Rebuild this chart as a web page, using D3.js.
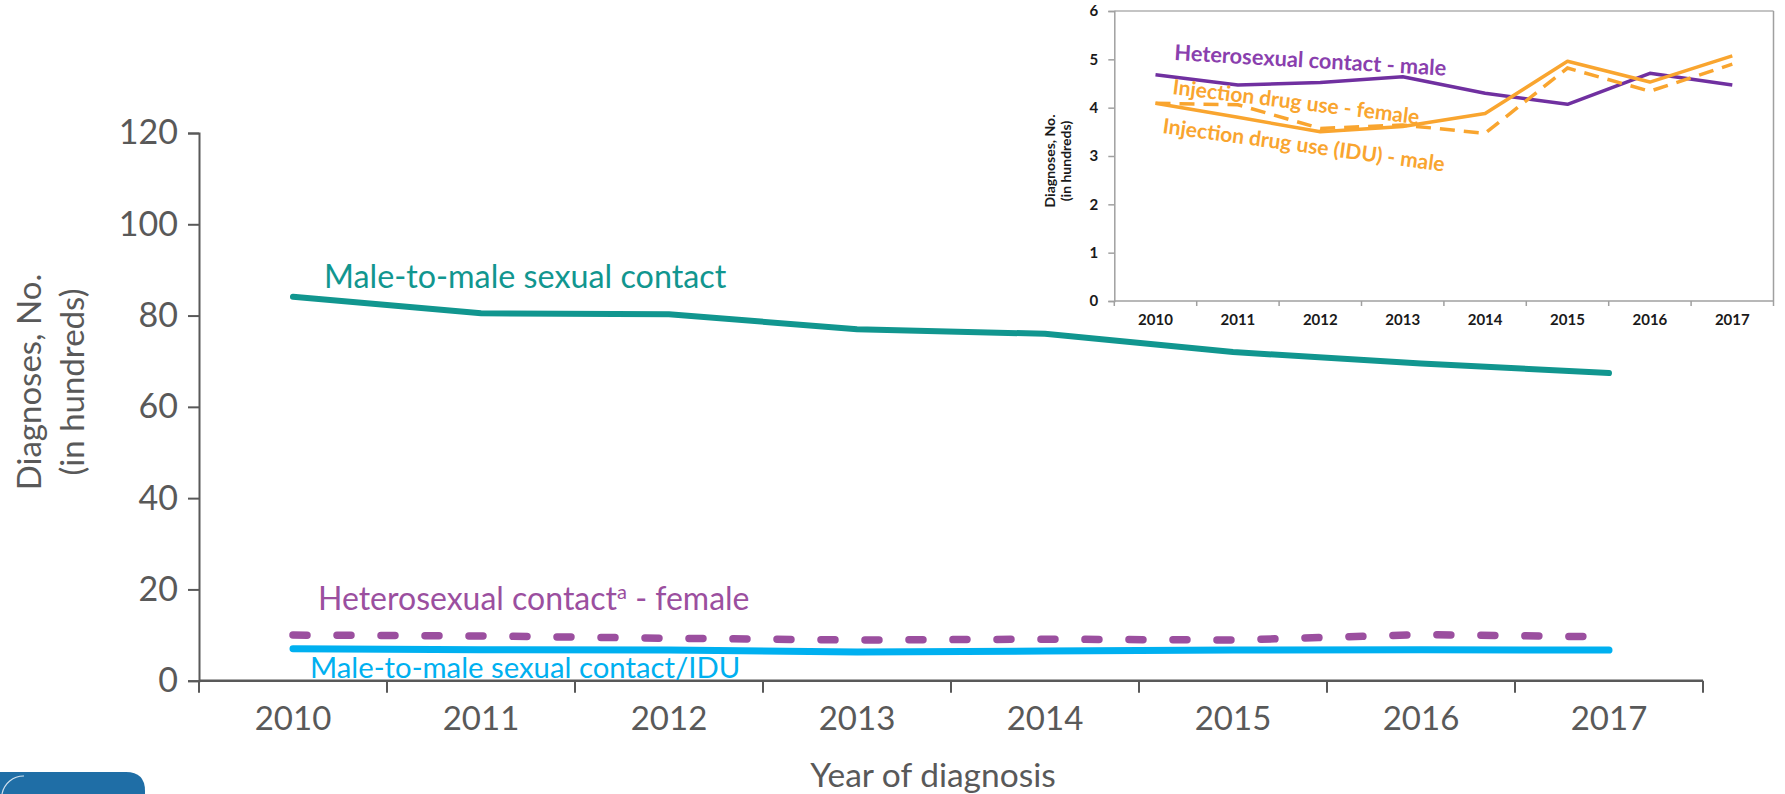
<!DOCTYPE html>
<html>
<head>
<meta charset="utf-8">
<script src="https://cdn.jsdelivr.net/npm/d3@7"></script>
<style>
  html, body { margin: 0; padding: 0; background: #fff; }
  svg { display: block; }
</style>
</head>
<body>
<svg id="chart" width="1785" height="794"></svg>
<script>
// ---------- data ----------
const years = ["2010", "2011", "2012", "2013", "2014", "2015", "2016", "2017"];
const mainYTicks = [0, 20, 40, 60, 80, 100, 120];
const insetYTicks = [0, 1, 2, 3, 4, 5, 6];

const maleToMale = [84.1, 80.5, 80.3, 77.0, 76.0, 72.0, 69.5, 67.4];
const heteroFemale = [10.0, 9.8, 9.3, 8.9, 9.1, 8.9, 10.1, 9.6];
const mmscIdu = [7.0, 6.8, 6.7, 6.3, 6.5, 6.7, 6.8, 6.7];

const heteroMale = [4.68, 4.47, 4.52, 4.64, 4.30, 4.07, 4.71, 4.47];
const iduMale = [4.09, 3.80, 3.50, 3.61, 3.88, 4.96, 4.53, 5.07];
const iduFemale = [4.09, 4.06, 3.57, 3.64, 3.47, 4.82, 4.34, 4.90];

const mainLabels = ["Male-to-male sexual contact", "Heterosexual contact", "Male-to-male sexual contact/IDU"];
const insetLabels = ["Heterosexual contact - male", "Injection drug use - female", "Injection drug use (IDU) - male"];

// ---------- setup ----------
const svg = d3.select("#chart");
const FONT = "Lato, 'Open Sans', sans-serif";
const AXIS = "#595959";

// ---------- main chart ----------
const mx = d3.scaleBand().domain(years).range([199, 1703]);
const my = d3.scaleLinear().domain([0, 120]).range([680.7, 133]);
const mcx = d => mx(d) + mx.bandwidth() / 2;

const mainG = svg.append("g");

// y axis
const yAx = mainG.append("g").attr("transform", "translate(199,0)")
  .call(d3.axisLeft(my).tickValues(mainYTicks).tickSize(11).tickPadding(10));
yAx.select(".domain").attr("stroke", AXIS).attr("stroke-width", 2);
yAx.selectAll(".tick line").attr("stroke", AXIS).attr("stroke-width", 2);
yAx.selectAll(".tick text").attr("fill", AXIS).style("font-family", FONT).style("font-size", "34px");

// x axis: ticks at band boundaries
const xAx = mainG.append("g").attr("transform", "translate(0,680.7)");
xAx.append("line").attr("x1", 199).attr("x2", 1703).attr("stroke", AXIS).attr("stroke-width", 2.5);
const bounds = years.map(y => mx(y)).concat([mx(years[years.length - 1]) + mx.bandwidth()]);
xAx.selectAll("line.tk").data(bounds).join("line").attr("class", "tk")
  .attr("x1", d => d).attr("x2", d => d).attr("y1", 0).attr("y2", 12)
  .attr("stroke", AXIS).attr("stroke-width", 2);
xAx.selectAll("text").data(years).join("text")
  .attr("x", d => mcx(d)).attr("y", 49)
  .attr("text-anchor", "middle").attr("fill", AXIS)
  .style("font-family", FONT).style("font-size", "33px").text(d => d);

// axis titles
mainG.append("text").attr("x", 933).attr("y", 787).attr("text-anchor", "middle")
  .attr("fill", AXIS).style("font-family", FONT).style("font-size", "33.5px").text("Year of diagnosis");
mainG.append("text").attr("transform", "translate(41,382) rotate(-90)").attr("text-anchor", "middle")
  .attr("fill", AXIS).style("font-family", FONT).style("font-size", "33px").text("Diagnoses, No.");
mainG.append("text").attr("transform", "translate(84,382) rotate(-90)").attr("text-anchor", "middle")
  .attr("fill", AXIS).style("font-family", FONT).style("font-size", "33px").text("(in hundreds)");

const mline = d3.line().x((d, i) => mcx(years[i])).y(d => my(d));

mainG.append("path").datum(maleToMale).attr("d", mline).attr("fill", "none")
  .attr("stroke", "#11968F").attr("stroke-width", 6).attr("stroke-linecap", "round");
mainG.append("path").datum(heteroFemale).attr("d", mline).attr("fill", "none")
  .attr("stroke", "#9B4F9F").attr("stroke-width", 7.5).attr("stroke-linecap", "round")
  .attr("stroke-dasharray", "14,30");
mainG.append("path").datum(mmscIdu).attr("d", mline).attr("fill", "none")
  .attr("stroke", "#00B0F0").attr("stroke-width", 7).attr("stroke-linecap", "round");

// labels
mainG.append("text").attr("x", 324).attr("y", 288).attr("fill", "#11968F")
  .style("font-family", FONT).style("font-size", "32.3px").text(mainLabels[0]);
const hl = mainG.append("text").attr("x", 318).attr("y", 610).attr("fill", "#9B4F9F")
  .style("font-family", FONT).style("font-size", "32px");
hl.append("tspan").text(mainLabels[1]);
hl.append("tspan").attr("dy", -11).style("font-size", "20px").text("a");
hl.append("tspan").attr("dy", 11).text(" - female");
mainG.append("text").attr("x", 310).attr("y", 678).attr("fill", "#00B0F0")
  .style("font-family", FONT).style("font-size", "29.3px").text(mainLabels[2]);

// ---------- inset ----------
const ix = d3.scaleBand().domain(years).range([1114.3, 1773.5]);
const iy = d3.scaleLinear().domain([0, 6]).range([301, 11]);
const icx = d => ix(d) + ix.bandwidth() / 2;
const ins = svg.append("g");
const IAX = "#A0A0A0";

// box (top/right)
ins.append("line").attr("x1", 1114.3).attr("x2", 1773.5).attr("y1", 11).attr("y2", 11).attr("stroke", "#B0B0B0").attr("stroke-width", 1.5);
ins.append("line").attr("x1", 1773.5).attr("x2", 1773.5).attr("y1", 11).attr("y2", 301).attr("stroke", "#A0A0A0").attr("stroke-width", 1.5);

const iyAx = ins.append("g").attr("transform", "translate(1114.3,0)")
  .call(d3.axisLeft(iy).tickValues(insetYTicks).tickFormat(d3.format("d")).tickSize(6).tickPadding(10));
iyAx.select(".domain").attr("stroke", IAX).attr("stroke-width", 1.5);
iyAx.selectAll(".tick line").attr("stroke", IAX).attr("stroke-width", 1.5);
iyAx.selectAll(".tick text").attr("fill", "#1a1a1a").style("font-family", FONT)
  .style("font-size", "15px").style("font-weight", "bold");

const ixAx = ins.append("g").attr("transform", "translate(0,301)");
ixAx.append("line").attr("x1", 1114.3).attr("x2", 1773.5).attr("stroke", IAX).attr("stroke-width", 1.5);
const ibounds = years.map(y => ix(y)).concat([ix(years[years.length - 1]) + ix.bandwidth()]);
ixAx.selectAll("line.tk").data(ibounds).join("line").attr("class", "tk")
  .attr("x1", d => d).attr("x2", d => d).attr("y1", 0).attr("y2", 5)
  .attr("stroke", IAX).attr("stroke-width", 1.5);
ixAx.selectAll("text").data(years).join("text")
  .attr("x", d => icx(d)).attr("y", 24).attr("text-anchor", "middle").attr("fill", "#1a1a1a")
  .style("font-family", FONT).style("font-size", "15px").style("font-weight", "bold").text(d => d);

ins.append("text").attr("transform", "translate(1055,161) rotate(-90)").attr("text-anchor", "middle")
  .attr("fill", "#1a1a1a").style("font-family", FONT).style("font-size", "14px").style("font-weight", "bold").text("Diagnoses, No.");
ins.append("text").attr("transform", "translate(1071,161) rotate(-90)").attr("text-anchor", "middle")
  .attr("fill", "#1a1a1a").style("font-family", FONT).style("font-size", "14px").style("font-weight", "bold").text("(in hundreds)");

const iline = d3.line().x((d, i) => icx(years[i])).y(d => iy(d));
ins.append("path").datum(heteroMale).attr("d", iline).attr("fill", "none")
  .attr("stroke", "#7030A0").attr("stroke-width", 3.5).attr("stroke-linejoin", "round");
ins.append("path").datum(iduFemale).attr("d", iline).attr("fill", "none")
  .attr("stroke", "#F9A52F").attr("stroke-width", 3.5).attr("stroke-dasharray", "15,9");
ins.append("path").datum(iduMale).attr("d", iline).attr("fill", "none")
  .attr("stroke", "#F9A52F").attr("stroke-width", 3.5).attr("stroke-linejoin", "round");

ins.append("text").attr("transform", "translate(1174,60) rotate(3.3)").attr("fill", "#8A3FAE")
  .style("font-family", FONT).style("font-size", "21.8px").style("font-weight", "bold").text(insetLabels[0]);
ins.append("text").attr("transform", "translate(1172,94) rotate(7)").attr("fill", "#F9A52F")
  .style("font-family", FONT).style("font-size", "21px").style("font-weight", "bold").text(insetLabels[1]);
ins.append("text").attr("transform", "translate(1162,133) rotate(7.8)").attr("fill", "#F9A52F")
  .style("font-family", FONT).style("font-size", "21px").style("font-weight", "bold").text(insetLabels[2]);

// ---------- logo fragment bottom-left ----------
svg.append("path").attr("d", "M0,772 L126,772 Q145,772 145,791 L145,794 L0,794 Z").attr("fill", "#1F6EA6");
svg.append("path").attr("d", "M2,794 A22,22 0 0 1 24,776").attr("fill", "none").attr("stroke", "#cfe0ee").attr("stroke-width", 1.2);
</script>
</body>
</html>
